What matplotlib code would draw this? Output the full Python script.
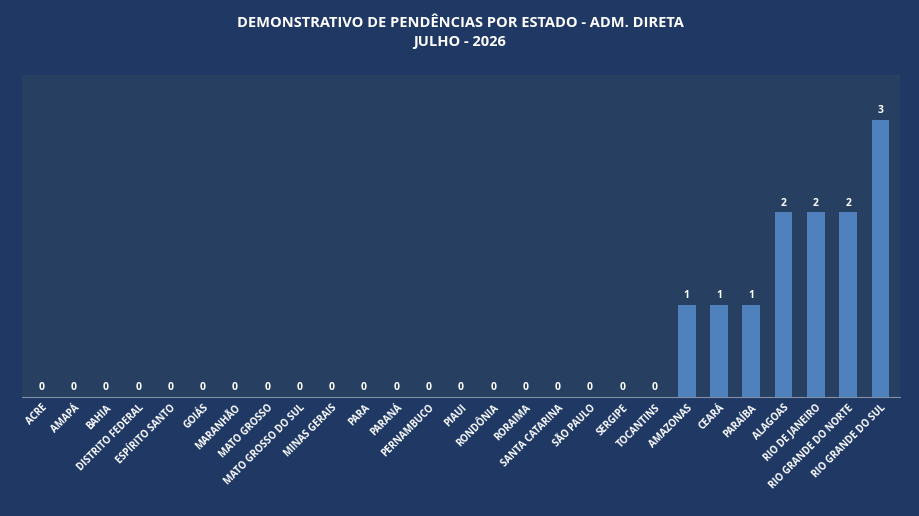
import matplotlib.pyplot as plt
import numpy as np

estados = ["ACRE", "AMAPÁ", "BAHIA", "DISTRITO FEDERAL", "ESPÍRITO SANTO", "GOIÁS",
           "MARANHÃO", "MATO GROSSO", "MATO GROSSO DO SUL", "MINAS GERAIS", "PARA",
           "PARANÁ", "PERNAMBUCO", "PIAUI", "RONDÔNIA", "RORAIMA", "SANTA CATARINA",
           "SÃO PAULO", "SERGIPE", "TOCANTINS", "AMAZONAS", "CEARÁ", "PARAÍBA",
           "ALAGOAS", "RIO DE JANEIRO", "RIO GRANDE DO NORTE", "RIO GRANDE DO SUL"]
pendencias = [0] * 20 + [1, 1, 1, 2, 2, 2, 3]

plt.rcParams['font.family'] = ['Open Sans', 'DejaVu Sans']

fig = plt.figure(figsize=(9.2, 5.16), dpi=100, facecolor="#1f3864")
ax = fig.add_axes([0.024, 0.231, 0.954, 0.624])
ax.set_facecolor("#273f60")

x = np.arange(len(estados))
bars = ax.bar(x, pendencias, width=0.55, color="#4f81bd")
for xi, v in zip(x, pendencias):
    ax.text(xi, v + 0.04, str(v), ha="center", va="bottom", color="white",
            fontsize=7.5, fontweight="bold")

ax.set_xlim(-0.6, len(estados) - 0.4)
ax.set_ylim(0, 3.49)
ax.set_yticks([])
ax.set_xticks(x)
ax.set_xticklabels(estados, rotation=45, ha="right", rotation_mode="anchor",
                   color="white", fontsize=7, fontweight="bold")
ax.tick_params(axis="x", length=0, pad=4)
for s in ["top", "right", "left"]:
    ax.spines[s].set_visible(False)
ax.spines["bottom"].set_color("#8090a8")

fig.text(0.5, 0.955, "DEMONSTRATIVO DE PENDÊNCIAS POR ESTADO - ADM. DIRETA",
         ha="center", va="center", color="white", fontsize=10.5, fontweight="bold")
fig.text(0.5, 0.918, "JULHO - 2026", ha="center", va="center", color="white",
         fontsize=10.5, fontweight="bold")

fig.savefig("out.png", dpi=100, facecolor=fig.get_facecolor())
